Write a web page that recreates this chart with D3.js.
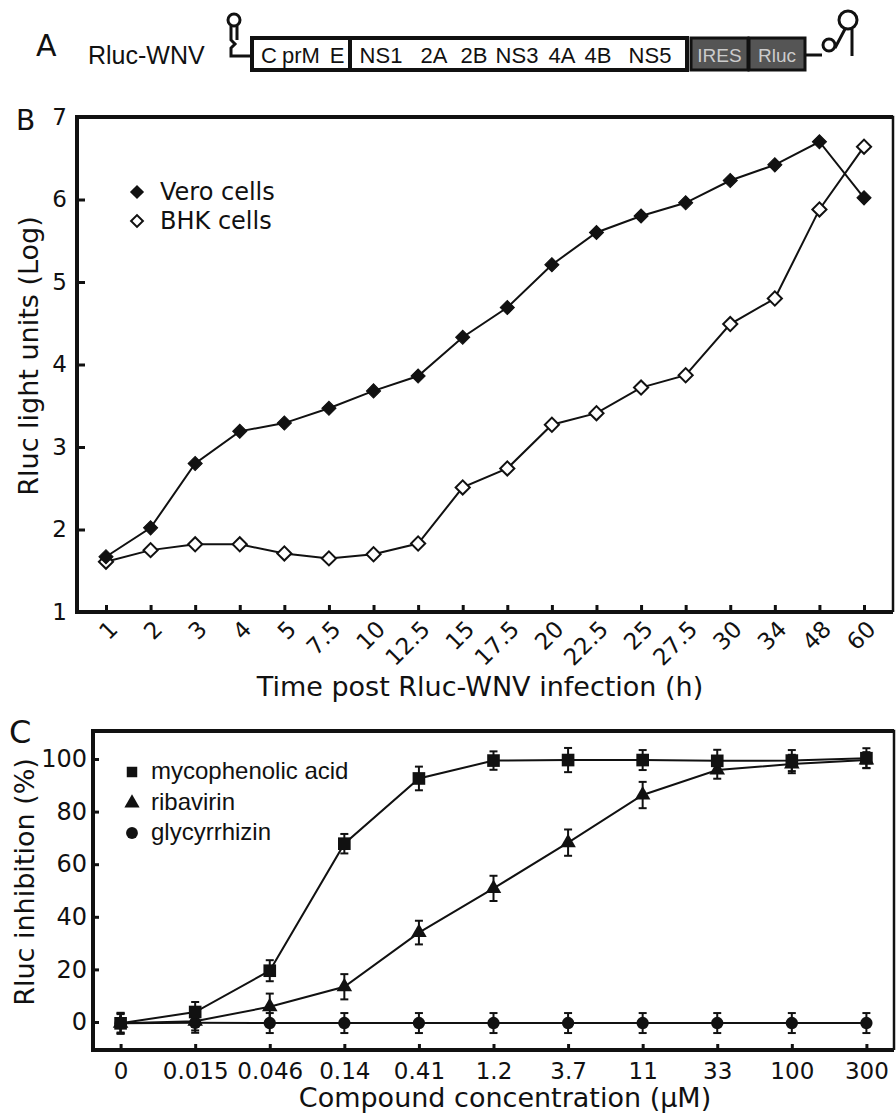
<!doctype html>
<html>
<head>
	<title>Rluc-WNV reporter</title>
	<meta charset="UTF-8">
	<script src="https://d3js.org/d3.v7.min.js"></script>
	<style>
		body { margin: 0; background: #fff; }
		text { font-family: "DejaVu Sans", sans-serif; fill: #111; }
	</style>
</head>
<body>
<script>
	// Panel B: time course (log Rluc light units)
	var hours = ["1", "2", "3", "4", "5", "7.5", "10", "12.5", "15", "17.5", "20", "22.5", "25", "27.5", "30", "34", "48", "60"];
	var vero = [1.67, 2.02, 2.80, 3.19, 3.29, 3.47, 3.68, 3.86, 4.33, 4.69, 5.21, 5.60, 5.80, 5.96, 6.23, 6.42, 6.70, 6.02];
	var bhk = [1.61, 1.75, 1.82, 1.82, 1.71, 1.65, 1.70, 1.83, 2.51, 2.74, 3.27, 3.41, 3.72, 3.87, 4.49, 4.80, 5.88, 6.64];
	var logTicks = [1, 2, 3, 4, 5, 6, 7];

	// Panel C: compound inhibition (%)
	var concs = ["0", "0.015", "0.046", "0.14", "0.41", "1.2", "3.7", "11", "33", "100", "300"];
	var mpa = [-0.5, 3.8, 19.5, 67.8, 92.6, 99.4, 99.6, 99.6, 99.3, 99.4, 100.3];
	var mpaErr = [4, 3.8, 4, 3.7, 4.5, 3.5, 4.6, 3.8, 4.2, 4, 3.8];
	var riba = [-0.5, 0.3, 5.8, 13.4, 34, 50.8, 68.2, 86.3, 95.8, 98.1, 99.6];
	var ribaErr = [3.5, 3.5, 5, 4.8, 4.5, 4.8, 5, 5, 3.3, 3.5, 3];
	var glyc = [-0.5, -0.3, -0.4, -0.4, -0.4, -0.4, -0.4, -0.4, -0.4, -0.4, -0.4];
	var glycErr = [3.8, 3.8, 3.8, 3.8, 3.8, 3.8, 3.8, 3.8, 3.8, 3.8, 3.8];
	var pctTicks = [0, 20, 40, 60, 80, 100];

	var svg = d3.select("body").append("svg")
		.attr("width", 896)
		.attr("height", 1116);

	// ---------- Panel A: genome schematic ----------
	var gA = svg.append("g");
	gA.append("text").attr("x", 36).attr("y", 56).style("font-size", "30px").text("A");
	gA.append("text").attr("x", 88).attr("y", 64).style("font-family", "Liberation Sans")
		.style("font-size", "25px").text("Rluc-WNV");

	// left stem loop
	gA.append("circle").attr("cx", 234).attr("cy", 20).attr("r", 6)
		.attr("fill", "none").attr("stroke", "#111").attr("stroke-width", 3);
	gA.append("path")
		.attr("d", "M231,26 V40 l4,4 l-4,4 V56 H252 M237,26 V40")
		.attr("fill", "none").attr("stroke", "#111").attr("stroke-width", 3);

	// coding region box
	gA.append("rect").attr("x", 252).attr("y", 38).attr("width", 435).attr("height", 32)
		.attr("fill", "#fff").attr("stroke", "#111").attr("stroke-width", 4);
	gA.append("line").attr("x1", 350).attr("x2", 350).attr("y1", 38).attr("y2", 70)
		.attr("stroke", "#111").attr("stroke-width", 4);
	var geneLabels = [["C", 269], ["prM", 301], ["E", 337], ["NS1", 381], ["2A", 434], ["2B", 474],
		["NS3", 517], ["4A", 562], ["4B", 598], ["NS5", 650]];
	geneLabels.forEach(function(g) {
		gA.append("text").attr("x", g[1]).attr("y", 63).attr("text-anchor", "middle")
			.style("font-family", "Liberation Sans").style("font-size", "22px").text(g[0]);
	});

	// IRES and Rluc boxes
	[["IRES", 691, 57], ["Rluc", 749, 56]].forEach(function(b) {
		gA.append("rect").attr("x", b[1]).attr("y", 38).attr("width", b[2]).attr("height", 32)
			.attr("fill", "#555").attr("stroke", "#111").attr("stroke-width", 3);
		gA.append("text").attr("x", b[1] + b[2] / 2).attr("y", 62).attr("text-anchor", "middle")
			.style("font-family", "Liberation Sans").style("font-size", "19px")
			.style("fill", "#ccc").text(b[0]);
	});

	// right stem loop
	gA.append("path")
		.attr("d", "M805,55 H822")
		.attr("stroke", "#111").attr("stroke-width", 3);
	gA.append("circle").attr("cx", 829).attr("cy", 45).attr("r", 6)
		.attr("fill", "none").attr("stroke", "#111").attr("stroke-width", 3);
	gA.append("circle").attr("cx", 848).attr("cy", 20).attr("r", 9)
		.attr("fill", "none").attr("stroke", "#111").attr("stroke-width", 3);
	gA.append("path")
		.attr("d", "M835,48 L845,29 M852,29 V56")
		.attr("fill", "none").attr("stroke", "#111").attr("stroke-width", 3);

	// ---------- Panel B ----------
	var bL = 77, bR = 893, bT = 117, bB = 612;
	var x = d3.scalePoint().domain(hours).range([bL, bR]).padding(0.65);
	var y = d3.scaleLinear().domain([1, 7]).range([bB, bT]);

	svg.append("text").attr("x", 16).attr("y", 130).style("font-size", "28px").text("B");

	var yAxisB = svg.append("g")
		.attr("transform", "translate(" + bL + ",0)")
		.call(d3.axisLeft(y).tickValues(logTicks).tickFormat(d3.format("d")).tickSize(-8).tickPadding(10));
	yAxisB.select(".domain").remove();
	yAxisB.selectAll("line").attr("stroke", "#111").attr("stroke-width", 3);
	yAxisB.selectAll("text").style("font-size", "23px").attr("fill", "#111");

	var xAxisB = svg.append("g")
		.attr("transform", "translate(0," + bB + ")")
		.call(d3.axisBottom(x).tickSize(-7));
	xAxisB.select(".domain").remove();
	xAxisB.selectAll("line").attr("stroke", "#111").attr("stroke-width", 3);
	xAxisB.selectAll("text")
		.style("font-size", "23px").attr("fill", "#111")
		.attr("x", 0).attr("y", 0).attr("dy", "0.35em")
		.attr("text-anchor", "end")
		.attr("transform", "translate(7,13) rotate(-45)");

	// frame
	svg.append("path")
		.attr("d", "M" + bL + "," + bT + " H" + bR + " V" + bB)
		.attr("fill", "none").attr("stroke", "#111").attr("stroke-width", 2.5);
	svg.append("path")
		.attr("d", "M" + bR + "," + bB + " H" + bL + " V" + bT + " H" + bR)
		.attr("fill", "none").attr("stroke", "#111").attr("stroke-width", 4);

	var lineB = d3.line()
		.x(function(d, i) { return x(hours[i]); })
		.y(function(d) { return y(d); });

	svg.append("path").attr("d", lineB(vero))
		.attr("fill", "none").attr("stroke", "#111").attr("stroke-width", 2);
	svg.append("path").attr("d", lineB(bhk))
		.attr("fill", "none").attr("stroke", "#111").attr("stroke-width", 2);

	var diamond = d3.symbol().type(d3.symbolSquare).size(100);
	svg.append("g").selectAll("path").data(bhk).join("path")
		.attr("d", diamond)
		.attr("transform", function(d, i) { return "translate(" + x(hours[i]) + "," + y(d) + ") rotate(45)"; })
		.attr("fill", "#fff").attr("stroke", "#111").attr("stroke-width", 2);
	svg.append("g").selectAll("path").data(vero).join("path")
		.attr("d", diamond)
		.attr("transform", function(d, i) { return "translate(" + x(hours[i]) + "," + y(d) + ") rotate(45)"; })
		.attr("fill", "#111").attr("stroke", "#111").attr("stroke-width", 1);

	// legend B
	svg.append("path").attr("d", diamond).attr("transform", "translate(137,192) rotate(45)")
		.attr("fill", "#111");
	svg.append("path").attr("d", d3.symbol().type(d3.symbolSquare).size(70)).attr("transform", "translate(137,221) rotate(45)")
		.attr("fill", "#fff").attr("stroke", "#111").attr("stroke-width", 2);
	svg.append("text").attr("x", 160).attr("y", 200).style("font-size", "24px").text("Vero cells");
	svg.append("text").attr("x", 160).attr("y", 229).style("font-size", "24px").text("BHK cells");

	svg.append("text").attr("x", (bL + bR) / 2 - 5).attr("y", 696).attr("text-anchor", "middle")
		.style("font-size", "27px").text("Time post Rluc-WNV infection (h)");
	svg.append("text").attr("transform", "translate(38,356) rotate(-90)").attr("text-anchor", "middle")
		.style("font-size", "27px").text("Rluc light units (Log)");

	// ---------- Panel C ----------
	var cL = 93, cR = 894, cT = 731, cB = 1050;
	var x2 = d3.scalePoint().domain(concs).range([cL, cR]).padding(0.37);
	var y2 = d3.scaleLinear().domain([0, 100]).range([1022, 759]);

	svg.append("text").attr("x", 9).attr("y", 743).style("font-size", "32px").text("C");

	var yAxisC = svg.append("g")
		.attr("transform", "translate(" + cL + ",0)")
		.call(d3.axisLeft(y2).tickValues(pctTicks).tickSize(-6).tickPadding(6));
	yAxisC.select(".domain").remove();
	yAxisC.selectAll("line").attr("stroke", "#111").attr("stroke-width", 3);
	yAxisC.selectAll("text").style("font-size", "24px").attr("fill", "#111");

	var xAxisC = svg.append("g")
		.attr("transform", "translate(0," + cB + ")")
		.call(d3.axisBottom(x2).tickSize(-6).tickPadding(13));
	xAxisC.select(".domain").remove();
	xAxisC.selectAll("line").attr("stroke", "#111").attr("stroke-width", 3);
	xAxisC.selectAll("text").style("font-size", "23px").attr("fill", "#111");

	svg.append("path")
		.attr("d", "M" + cL + "," + cT + " H" + cR + " V" + cB)
		.attr("fill", "none").attr("stroke", "#111").attr("stroke-width", 2.5);
	svg.append("path")
		.attr("d", "M" + cR + "," + cB + " H" + cL + " V" + cT + " H" + cR)
		.attr("fill", "none").attr("stroke", "#111").attr("stroke-width", 4);

	var lineC = d3.line()
		.x(function(d, i) { return x2(concs[i]); })
		.y(function(d) { return y2(d); });

	var seriesC = [
		{ vals: glyc, err: glycErr, sym: d3.symbol().type(d3.symbolCircle).size(120) },
		{ vals: riba, err: ribaErr, sym: d3.symbol().type(d3.symbolTriangle).size(105) },
		{ vals: mpa, err: mpaErr, sym: d3.symbol().type(d3.symbolSquare).size(160) }
	];

	seriesC.forEach(function(s) {
		svg.append("path").attr("d", lineC(s.vals))
			.attr("fill", "none").attr("stroke", "#111").attr("stroke-width", 2);
	});
	seriesC.forEach(function(s) {
		var g = svg.append("g").attr("stroke", "#111").attr("stroke-width", 2);
		s.vals.forEach(function(v, i) {
			var cx = x2(concs[i]);
			g.append("line").attr("x1", cx).attr("x2", cx)
				.attr("y1", y2(v - s.err[i])).attr("y2", y2(v + s.err[i]));
			g.append("line").attr("x1", cx - 4).attr("x2", cx + 4)
				.attr("y1", y2(v - s.err[i])).attr("y2", y2(v - s.err[i]));
			g.append("line").attr("x1", cx - 4).attr("x2", cx + 4)
				.attr("y1", y2(v + s.err[i])).attr("y2", y2(v + s.err[i]));
		});
		svg.append("g").selectAll("path").data(s.vals).join("path")
			.attr("d", s.sym)
			.attr("transform", function(d, i) { return "translate(" + x2(concs[i]) + "," + y2(d) + ")"; })
			.attr("fill", "#111");
	});

	// legend C
	var legC = [
		["mycophenolic acid", d3.symbol().type(d3.symbolSquare).size(110), 772],
		["ribavirin", d3.symbol().type(d3.symbolTriangle).size(100), 803],
		["glycyrrhizin", d3.symbol().type(d3.symbolCircle).size(110), 833]
	];
	legC.forEach(function(l) {
		svg.append("path").attr("d", l[1]).attr("transform", "translate(132," + l[2] + ")").attr("fill", "#111");
		svg.append("text").attr("x", 151).attr("y", l[2] + 7)
			.style("font-family", "Liberation Sans").style("font-size", "24px").text(l[0]);
	});

	svg.append("text").attr("x", 505).attr("y", 1107).attr("text-anchor", "middle")
		.style("font-size", "27px").text("Compound concentration (\u03bcM)");
	svg.append("text").attr("transform", "translate(34,882) rotate(-90)").attr("text-anchor", "middle")
		.style("font-size", "27px").text("Rluc inhibition (%)");
</script>
</body>
</html>
